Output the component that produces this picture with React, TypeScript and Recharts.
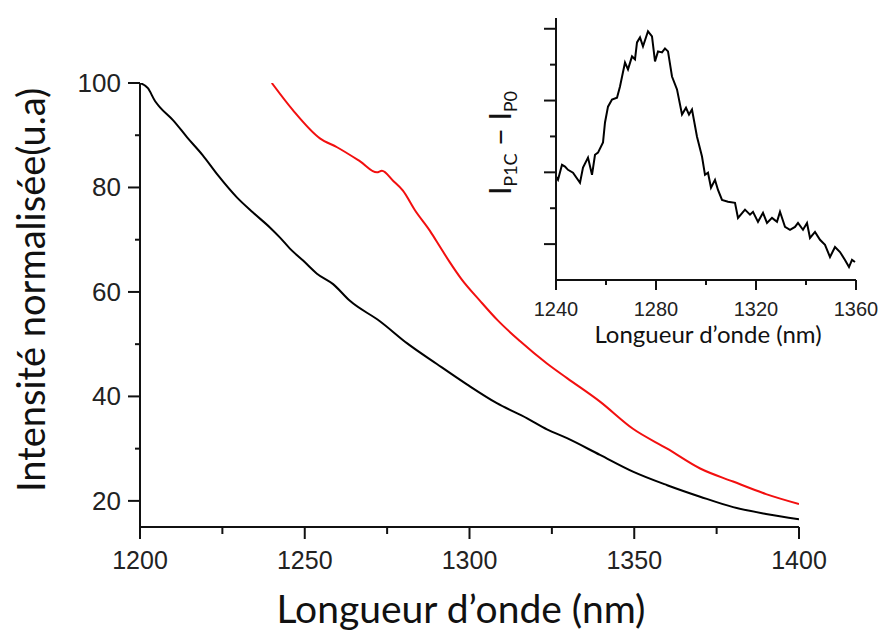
import { LineChart, Line, XAxis, YAxis } from "recharts";

// main plot: black reference curve and red curve (normalised intensity)
const blackWl = [1200, 1202.4, 1204.6, 1206, 1210, 1214.3, 1219, 1223.7, 1229.4, 1234.3, 1239.5, 1242.5, 1245.5, 1249.5, 1253.7, 1258.6, 1263.7, 1272.8, 1281, 1290.1, 1299.2, 1308.3, 1317.5, 1323.5, 1329.6, 1339.6, 1349.6, 1360, 1370, 1380, 1390, 1400];
const blackVal = [100, 99, 96.5, 95.4, 92.9, 89.6, 86.2, 82.3, 78.1, 75.2, 72.3, 70.4, 68.3, 66, 63.5, 61.5, 58.3, 54.4, 50.2, 46.2, 42.3, 38.7, 35.8, 33.7, 32, 28.8, 25.6, 23, 20.8, 18.8, 17.5, 16.5];

const redWl = [1240, 1246.4, 1254.6, 1259.8, 1266.8, 1271.9, 1273.4, 1276.8, 1279.8, 1283.5, 1288, 1291, 1294, 1297.5, 1303.2, 1308.5, 1315.3, 1323.5, 1329.6, 1339.6, 1349.6, 1360, 1370, 1380, 1390, 1400];
const redVal = [100, 94.8, 89.4, 87.7, 85, 82.9, 83.2, 81.3, 79.4, 75.6, 71.7, 68.7, 65.7, 62.5, 58.3, 54.6, 50.6, 46.3, 43.5, 39, 33.8, 30, 26.2, 23.7, 21.3, 19.4];

const mainXTicks = [1200, 1225, 1250, 1275, 1300, 1325, 1350, 1375, 1400];
const mainYTicks = [20, 30, 40, 50, 60, 70, 80, 90, 100];

// inset: I_P1C - I_P0 difference spectrum (arbitrary units)
const insetWl = [1240, 1240.8, 1242.4, 1243.6, 1244.8, 1246.8, 1249.6, 1250.8, 1252.8, 1254.4, 1255.6, 1256.8, 1258.8, 1259.6, 1260.8, 1262.4, 1264.4, 1265.6, 1267.6, 1268.8, 1270.4, 1271.6, 1272.4, 1273.6, 1274.8, 1276.8, 1278.4, 1279.6, 1280.8, 1282.4, 1283.6, 1284.8, 1286.4, 1288.4, 1290.4, 1292, 1293.2, 1294.4, 1296.4, 1298.4, 1299.6, 1300.8, 1302, 1303.6, 1304.8, 1306.4, 1308.8, 1311.6, 1312.8, 1315.6, 1317.6, 1318.8, 1320.8, 1322.8, 1324.4, 1326.4, 1328.4, 1329.6, 1331.6, 1333.6, 1335.6, 1336.8, 1338.8, 1340.4, 1341.6, 1343.6, 1345.6, 1347.6, 1349.6, 1351.6, 1353.6, 1355.6, 1357.2, 1358.4, 1359.6];
const insetVal = [2.88, 2.79, 3.21, 3.16, 3.07, 2.99, 2.71, 3.13, 3.41, 2.93, 3.49, 3.55, 3.83, 4.39, 4.83, 5.03, 5.08, 5.39, 6.06, 5.87, 6.23, 6.15, 6.62, 6.76, 6.51, 6.93, 6.79, 6.09, 6.37, 6.34, 6.45, 6.37, 5.67, 5.31, 4.61, 4.8, 4.61, 4.75, 3.99, 3.44, 2.93, 2.99, 2.57, 2.79, 2.51, 2.23, 2.18, 2.15, 1.73, 1.96, 1.82, 1.9, 1.62, 1.87, 1.59, 1.73, 1.62, 1.9, 1.48, 1.4, 1.48, 1.59, 1.4, 1.59, 1.17, 1.34, 1.12, 0.98, 0.64, 0.92, 0.78, 0.56, 0.36, 0.56, 0.5];

const insetXTicks = [1240, 1260, 1280, 1300, 1320, 1340, 1360];
const insetYTicks = [1, 2, 3, 4, 5, 6, 7];

const blackData = blackWl.map((wl, i) => ({ wl, v: blackVal[i] }));
const redData = redWl.map((wl, i) => ({ wl, v: redVal[i] }));
const insetData = insetWl.map((wl, i) => ({ wl, v: insetVal[i] }));

const numFont = "'Liberation Sans', Arial, sans-serif";
const titleFont = "Lato, 'Open Sans', sans-serif";
const ink = "#111";

function MainXTick({ x, y, payload }: any) {
  const major = payload.value % 50 === 0;
  return (
    <g>
      <line x1={x} x2={x} y1={y} y2={y + (major ? 12 : 7)} stroke={ink} strokeWidth={2} />
      {major && (
        <text x={x} y={y + 42} textAnchor="middle" fontSize={25} fontFamily={numFont} fill="#222">
          {payload.value}
        </text>
      )}
    </g>
  );
}

function MainYTick({ x, y, payload }: any) {
  const major = payload.value % 20 === 0;
  return (
    <g>
      <line x1={x} x2={x - (major ? 12 : 5)} y1={y} y2={y} stroke={ink} strokeWidth={2} />
      {major && (
        <text x={x - 19} y={y + 9} textAnchor="end" fontSize={26} fontFamily={numFont} fill="#222">
          {payload.value}
        </text>
      )}
    </g>
  );
}

function InsetXTick({ x, y, payload }: any) {
  const major = (payload.value - 1240) % 40 === 0;
  return (
    <g>
      <line x1={x} x2={x} y1={y} y2={y + (major ? 10 : 5)} stroke={ink} strokeWidth={2} />
      {major && (
        <text x={x} y={y + 36} textAnchor="middle" fontSize={20} fontFamily={numFont} fill="#222">
          {payload.value}
        </text>
      )}
    </g>
  );
}

function InsetYTick({ x, y, payload }: any) {
  const major = payload.value % 2 === 1;
  return <line x1={x} x2={x - (major ? 12 : 6)} y1={y} y2={y} stroke={ink} strokeWidth={2} />;
}

export default function App() {
  return (
    <div style={{ position: "absolute", left: 0, top: 0, width: 880, height: 631, background: "#fff" }}>
      <div style={{ position: "absolute", left: 0, top: 0 }}>
        <LineChart width={880} height={631} margin={{ top: 83, right: 81, bottom: 74, left: 80 }}>
          <XAxis
            type="number"
            dataKey="wl"
            domain={[1200, 1400]}
            ticks={mainXTicks}
            height={30}
            tickSize={0}
            tickMargin={0}
            tickLine={false}
            axisLine={{ stroke: ink, strokeWidth: 2 }}
            tick={<MainXTick />}
            interval={0}
            allowDataOverflow
          />
          <YAxis
            type="number"
            domain={[15, 100]}
            ticks={mainYTicks}
            width={60}
            tickSize={0}
            tickMargin={0}
            tickLine={false}
            axisLine={{ stroke: ink, strokeWidth: 2 }}
            tick={<MainYTick />}
            interval={0}
            allowDataOverflow
          />
          <Line data={blackData} dataKey="v" type="monotone" stroke="#000" strokeWidth={2} dot={false} isAnimationActive={false} />
          <Line data={redData} dataKey="v" type="monotone" stroke="#f20f0f" strokeWidth={2} dot={false} isAnimationActive={false} />
        </LineChart>
      </div>
      <div style={{ position: "absolute", left: 0, top: 0 }}>
        <LineChart width={880} height={631} margin={{ top: 18, right: 24, bottom: 321, left: 496 }}>
          <XAxis
            type="number"
            dataKey="wl"
            domain={[1240, 1360]}
            ticks={insetXTicks}
            height={30}
            tickSize={0}
            tickMargin={0}
            tickLine={false}
            axisLine={{ stroke: ink, strokeWidth: 2 }}
            tick={<InsetXTick />}
            interval={0}
          />
          <YAxis
            type="number"
            domain={[0, 7.3]}
            ticks={insetYTicks}
            width={60}
            tickSize={0}
            tickMargin={0}
            tickLine={false}
            axisLine={{ stroke: ink, strokeWidth: 2 }}
            tick={<InsetYTick />}
            interval={0}
          />
          <Line data={insetData} dataKey="v" type="linear" stroke="#000" strokeWidth={2} dot={false} isAnimationActive={false} />
        </LineChart>
      </div>
      <svg width={880} height={631} style={{ position: "absolute", left: 0, top: 0, pointerEvents: "none" }}>
        <text
          transform="translate(30, 290) rotate(-90)"
          textAnchor="middle"
          dominantBaseline="central"
          fontSize={38}
          fontFamily={titleFont}
          fill="#111"
        >
          Intensité normalisée(u.a)
        </text>
        <text x={461} y={623} textAnchor="middle" fontSize={39} fontFamily={titleFont} fill="#111">
          Longueur d’onde (nm)
        </text>
        <text x={708} y={343} textAnchor="middle" fontSize={24} fontFamily={titleFont} fill="#111">
          Longueur d’onde (nm)
        </text>
        <text transform="translate(511, 143) rotate(-90)" textAnchor="middle" fontSize={30} fontFamily={titleFont} fill="#111">
          I<tspan fontSize={18} dy={6}>P1C</tspan>
          <tspan dy={-6}> − I</tspan>
          <tspan fontSize={18} dy={6}>P0</tspan>
        </text>
      </svg>
    </div>
  );
}
